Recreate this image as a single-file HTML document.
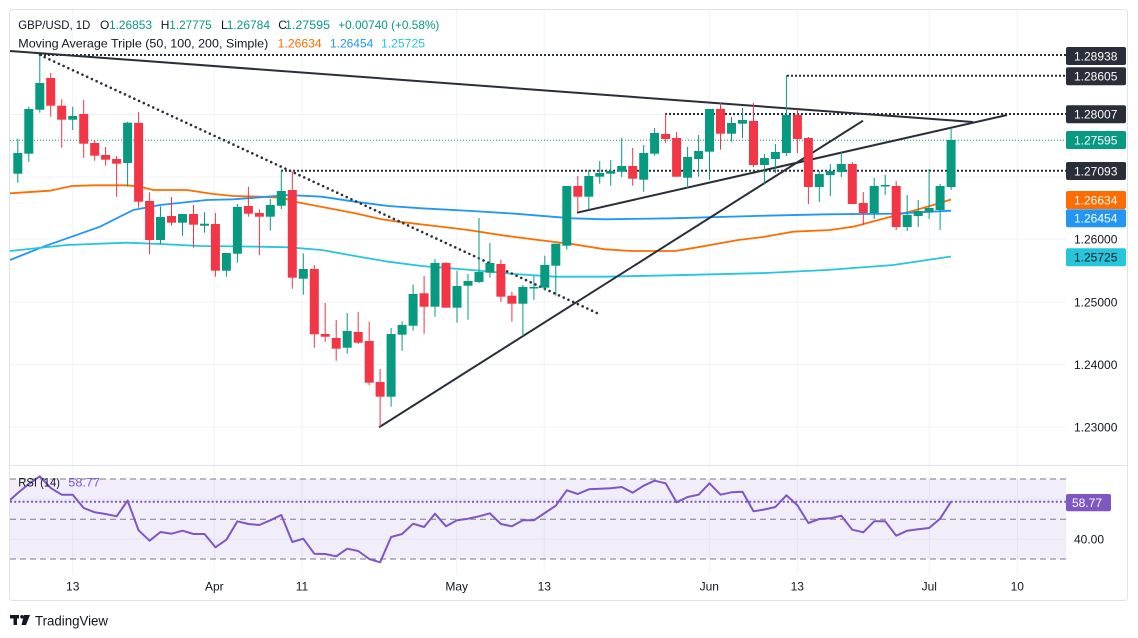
<!DOCTYPE html>
<html><head><meta charset="utf-8"><style>
html,body{margin:0;padding:0;background:#fff;}
svg{display:block;font-family:"Liberation Sans",Arial,sans-serif;}
</style></head><body>
<svg width="1138" height="638" viewBox="0 0 1138 638" xmlns="http://www.w3.org/2000/svg">
<rect x="0" y="0" width="1138" height="638" fill="#fff"/>
<rect x="9.5" y="9.5" width="1118" height="591" fill="#fff" stroke="#e0e3eb" stroke-width="1" rx="3"/>
<defs>
<clipPath id="mc"><rect x="10" y="10" width="1056" height="455"/></clipPath>
<clipPath id="rc"><rect x="10" y="466" width="1056" height="108"/></clipPath>
</defs>
<!-- grid -->
<g stroke="#f0f3fa" stroke-width="1">
<line x1="72.7" y1="10" x2="72.7" y2="574"/><line x1="214.3" y1="10" x2="214.3" y2="574"/><line x1="302" y1="10" x2="302" y2="574"/><line x1="456.7" y1="10" x2="456.7" y2="574"/><line x1="544.3" y1="10" x2="544.3" y2="574"/><line x1="709.3" y1="10" x2="709.3" y2="574"/><line x1="797.3" y1="10" x2="797.3" y2="574"/><line x1="929.3" y1="10" x2="929.3" y2="574"/><line x1="1017.3" y1="10" x2="1017.3" y2="574"/>
<line x1="10" y1="52" x2="1066" y2="52"/><line x1="10" y1="114.5" x2="1066" y2="114.5"/><line x1="10" y1="177" x2="1066" y2="177"/><line x1="10" y1="239" x2="1066" y2="239"/><line x1="10" y1="302" x2="1066" y2="302"/><line x1="10" y1="364.5" x2="1066" y2="364.5"/><line x1="10" y1="427" x2="1066" y2="427"/>
<line x1="10" y1="499.3" x2="1066" y2="499.3"/><line x1="10" y1="539.3" x2="1066" y2="539.3"/>
</g>
<line x1="10" y1="465.5" x2="1127" y2="465.5" stroke="#e0e3eb" stroke-width="1"/>
<g clip-path="url(#mc)">
<!-- MAs -->
<polyline fill="none" stroke="#ff6d00" stroke-width="1.8" points="10,193.3 50,190.7 71.7,186 93.3,185.3 126.7,185.3 140,186.7 153.3,190 186.7,190 213.3,194 233.3,196 260,196.7 281.7,197.7 295,201.7 355,213.3 381.7,219.3 398.3,221.7 435,226 468.3,230 505,235.7 538.3,240 571.7,244 605,249.3 631.7,251 675,251 691.7,248.3 738.3,240 763,237 793.3,231.7 830,230 853.3,226.7 870,222.3 893.3,216 913.3,210.7 936.7,204 951,199.5"/>
<polyline fill="none" stroke="#2196f3" stroke-width="1.8" points="10,260 43.3,246.7 71.7,236.7 100,226.7 133.3,210 160,205 206.7,200 233.3,199.3 255,197.7 288.3,195 321.7,196.7 355,201.7 388.3,206 421.7,208.3 471.7,211 515,213.7 571.7,218.3 605,219.3 671.7,218.3 765,215.7 826.7,214.3 893.3,213.7 951,210.7"/>
<polyline fill="none" stroke="#26c6da" stroke-width="1.8" points="10,251 66.7,245 126.7,242.7 160,244 200,246 260,246.7 288.3,247.3 321.7,250 355,256 388.3,261.7 421.7,266 471.7,270 515,274 555,276.7 605,276.7 671.7,275.3 765,273 826.7,270 893.3,265 951,256.5"/>
<!-- horizontal dotted -->
<g stroke="#2a2e39" stroke-width="2" stroke-dasharray="2 2">
<line x1="40" y1="55" x2="1066" y2="55"/>
<line x1="787" y1="75.7" x2="1066" y2="75.7"/>
<line x1="665" y1="114" x2="1066" y2="114"/>
<line x1="281" y1="170.7" x2="1066" y2="170.7"/>
</g>
<line x1="10" y1="140.3" x2="1066" y2="140.3" stroke="#089981" stroke-width="1" stroke-dasharray="1 2"/>
<!-- trend lines -->
<g stroke="#2a2e39" stroke-width="2" fill="none">
<line x1="10" y1="51" x2="973" y2="122"/>
<line x1="577" y1="212.7" x2="1007" y2="115"/>
<line x1="379" y1="427.3" x2="863" y2="120.7"/>
</g>
<line x1="40" y1="55" x2="597" y2="313" stroke="#2a2e39" stroke-width="2.6" stroke-linecap="round" stroke-dasharray="0 5.2"/>
<!-- candles -->
<g id="candles">
<rect x="17.3" y="138.7" width="1" height="44" fill="#089981"/><rect x="13.3" y="153" width="9" height="20.7" fill="#089981"/>
<rect x="28.3" y="106.7" width="1" height="55.3" fill="#089981"/><rect x="24.3" y="109" width="9" height="44.7" fill="#089981"/>
<rect x="39.3" y="55" width="1" height="57.7" fill="#089981"/><rect x="35.3" y="83" width="9" height="26.7" fill="#089981"/>
<rect x="50.2" y="73" width="1" height="43.7" fill="#f23645"/><rect x="46.2" y="78" width="9" height="27.7" fill="#f23645"/>
<rect x="61.2" y="99.3" width="1" height="48.4" fill="#f23645"/><rect x="57.2" y="105.7" width="9" height="14" fill="#f23645"/>
<rect x="72.2" y="106.7" width="1" height="23.3" fill="#089981"/><rect x="68.2" y="116" width="9" height="3.7" fill="#089981"/>
<rect x="83.2" y="100" width="1" height="57.7" fill="#f23645"/><rect x="79.2" y="114" width="9" height="29.7" fill="#f23645"/>
<rect x="94.2" y="140" width="1" height="20.7" fill="#f23645"/><rect x="90.2" y="143" width="9" height="12.7" fill="#f23645"/>
<rect x="105.1" y="147" width="1" height="18.7" fill="#f23645"/><rect x="101.1" y="155" width="9" height="4.7" fill="#f23645"/>
<rect x="116.1" y="156" width="1" height="40.7" fill="#f23645"/><rect x="112.1" y="159" width="9" height="4.7" fill="#f23645"/>
<rect x="127.1" y="121.7" width="1" height="65" fill="#089981"/><rect x="123.1" y="122.7" width="9" height="40.3" fill="#089981"/>
<rect x="138.1" y="112" width="1" height="95.7" fill="#f23645"/><rect x="134.1" y="123" width="9" height="78.7" fill="#f23645"/>
<rect x="149.1" y="192.3" width="1" height="62" fill="#f23645"/><rect x="145.1" y="201" width="9" height="39" fill="#f23645"/>
<rect x="160" y="206.3" width="1" height="37.7" fill="#089981"/><rect x="156" y="217" width="9" height="23" fill="#089981"/>
<rect x="171" y="197" width="1" height="28.7" fill="#f23645"/><rect x="167" y="216" width="9" height="6.7" fill="#f23645"/>
<rect x="182" y="214" width="1" height="21.7" fill="#089981"/><rect x="178" y="214" width="9" height="8.7" fill="#089981"/>
<rect x="193" y="205" width="1" height="42.7" fill="#f23645"/><rect x="189" y="214" width="9" height="10.7" fill="#f23645"/>
<rect x="204" y="212.3" width="1" height="20.4" fill="#089981"/><rect x="200" y="223.7" width="9" height="2" fill="#089981"/>
<rect x="214.9" y="213" width="1" height="63.7" fill="#f23645"/><rect x="210.9" y="224" width="9" height="46.7" fill="#f23645"/>
<rect x="225.9" y="253" width="1" height="23.7" fill="#089981"/><rect x="221.9" y="253" width="9" height="17.7" fill="#089981"/>
<rect x="236.9" y="204" width="1" height="58.7" fill="#089981"/><rect x="232.9" y="207" width="9" height="46.7" fill="#089981"/>
<rect x="247.9" y="186.7" width="1" height="30" fill="#f23645"/><rect x="243.9" y="206" width="9" height="7.7" fill="#f23645"/>
<rect x="258.9" y="209.3" width="1" height="45.7" fill="#f23645"/><rect x="254.9" y="213" width="9" height="3.7" fill="#f23645"/>
<rect x="269.8" y="199" width="1" height="31.7" fill="#089981"/><rect x="265.8" y="205" width="9" height="11.7" fill="#089981"/>
<rect x="280.8" y="170.7" width="1" height="38.3" fill="#089981"/><rect x="276.8" y="191" width="9" height="14.7" fill="#089981"/>
<rect x="291.8" y="171.7" width="1" height="117" fill="#f23645"/><rect x="287.8" y="190" width="9" height="87.7" fill="#f23645"/>
<rect x="302.8" y="253.3" width="1" height="41.4" fill="#089981"/><rect x="298.8" y="269" width="9" height="9.7" fill="#089981"/>
<rect x="313.8" y="265" width="1" height="82.7" fill="#f23645"/><rect x="309.8" y="269" width="9" height="65.3" fill="#f23645"/>
<rect x="324.7" y="303" width="1" height="39" fill="#f23645"/><rect x="320.7" y="334" width="9" height="2.7" fill="#f23645"/>
<rect x="335.7" y="320" width="1" height="40.7" fill="#f23645"/><rect x="331.7" y="338" width="9" height="10.7" fill="#f23645"/>
<rect x="346.7" y="313" width="1" height="40.7" fill="#089981"/><rect x="342.7" y="331" width="9" height="16.7" fill="#089981"/>
<rect x="357.7" y="312" width="1" height="32" fill="#f23645"/><rect x="353.7" y="332" width="9" height="10.7" fill="#f23645"/>
<rect x="368.7" y="322" width="1" height="63" fill="#f23645"/><rect x="364.7" y="341" width="9" height="41.7" fill="#f23645"/>
<rect x="379.6" y="369" width="1" height="58.3" fill="#f23645"/><rect x="375.6" y="382" width="9" height="14.7" fill="#f23645"/>
<rect x="390.6" y="328" width="1" height="78.7" fill="#089981"/><rect x="386.6" y="334" width="9" height="62.7" fill="#089981"/>
<rect x="401.6" y="321.3" width="1" height="29.4" fill="#089981"/><rect x="397.6" y="325" width="9" height="9.7" fill="#089981"/>
<rect x="412.6" y="284.7" width="1" height="46" fill="#089981"/><rect x="408.6" y="294" width="9" height="31.7" fill="#089981"/>
<rect x="423.6" y="276" width="1" height="57.7" fill="#f23645"/><rect x="419.6" y="293.3" width="9" height="13.4" fill="#f23645"/>
<rect x="434.5" y="259" width="1" height="57.7" fill="#089981"/><rect x="430.5" y="263" width="9" height="43.7" fill="#089981"/>
<rect x="445.5" y="262" width="1" height="45.7" fill="#f23645"/><rect x="441.5" y="263" width="9" height="44.7" fill="#f23645"/>
<rect x="456.5" y="270.7" width="1" height="52" fill="#089981"/><rect x="452.5" y="286" width="9" height="21.7" fill="#089981"/>
<rect x="467.5" y="274" width="1" height="45.7" fill="#089981"/><rect x="463.5" y="281" width="9" height="4.7" fill="#089981"/>
<rect x="478.5" y="218" width="1" height="65" fill="#089981"/><rect x="474.5" y="272" width="9" height="10" fill="#089981"/>
<rect x="489.4" y="243" width="1" height="34.7" fill="#089981"/><rect x="485.4" y="263" width="9" height="9.7" fill="#089981"/>
<rect x="500.4" y="260" width="1" height="42" fill="#f23645"/><rect x="496.4" y="264" width="9" height="32.7" fill="#f23645"/>
<rect x="511.4" y="291.7" width="1" height="30" fill="#f23645"/><rect x="507.4" y="295.7" width="9" height="8" fill="#f23645"/>
<rect x="522.4" y="285" width="1" height="51" fill="#089981"/><rect x="518.4" y="287" width="9" height="16.7" fill="#089981"/>
<rect x="533.4" y="276" width="1" height="23.7" fill="#089981"/><rect x="529.4" y="287" width="9" height="1.5" fill="#089981"/>
<rect x="544.3" y="255.7" width="1" height="35" fill="#089981"/><rect x="540.3" y="265" width="9" height="22.7" fill="#089981"/>
<rect x="555.3" y="243.7" width="1" height="52" fill="#089981"/><rect x="551.3" y="243.7" width="9" height="22" fill="#089981"/>
<rect x="566.3" y="186" width="1" height="63.7" fill="#089981"/><rect x="562.3" y="186" width="9" height="59.7" fill="#089981"/>
<rect x="577.3" y="176" width="1" height="35.7" fill="#f23645"/><rect x="573.3" y="186" width="9" height="10.7" fill="#f23645"/>
<rect x="588.3" y="169.7" width="1" height="40" fill="#089981"/><rect x="584.3" y="176" width="9" height="20.7" fill="#089981"/>
<rect x="599.2" y="161" width="1" height="22.7" fill="#089981"/><rect x="595.2" y="173" width="9" height="3.7" fill="#089981"/>
<rect x="610.2" y="160" width="1" height="25.7" fill="#089981"/><rect x="606.2" y="171" width="9" height="2.7" fill="#089981"/>
<rect x="621.2" y="138" width="1" height="39" fill="#089981"/><rect x="617.2" y="166" width="9" height="5.7" fill="#089981"/>
<rect x="632.2" y="148" width="1" height="37.7" fill="#f23645"/><rect x="628.2" y="166" width="9" height="12.7" fill="#f23645"/>
<rect x="643.2" y="145" width="1" height="46.7" fill="#089981"/><rect x="639.2" y="153" width="9" height="26.7" fill="#089981"/>
<rect x="654.1" y="128" width="1" height="27.7" fill="#089981"/><rect x="650.1" y="133" width="9" height="20.7" fill="#089981"/>
<rect x="665.1" y="113" width="1" height="30" fill="#f23645"/><rect x="661.1" y="134" width="9" height="5" fill="#f23645"/>
<rect x="676.1" y="132" width="1" height="44.7" fill="#f23645"/><rect x="672.1" y="138" width="9" height="38.7" fill="#f23645"/>
<rect x="687.1" y="147" width="1" height="41.7" fill="#089981"/><rect x="683.1" y="157" width="9" height="20.7" fill="#089981"/>
<rect x="698.1" y="135" width="1" height="41.7" fill="#089981"/><rect x="694.1" y="151" width="9" height="8" fill="#089981"/>
<rect x="709" y="109" width="1" height="70.7" fill="#089981"/><rect x="705" y="109" width="9" height="42.7" fill="#089981"/>
<rect x="720" y="103" width="1" height="46.7" fill="#f23645"/><rect x="716" y="109" width="9" height="24.7" fill="#f23645"/>
<rect x="731" y="117" width="1" height="24.7" fill="#089981"/><rect x="727" y="123" width="9" height="10.7" fill="#089981"/>
<rect x="742" y="108" width="1" height="30" fill="#089981"/><rect x="738" y="120" width="9" height="3.7" fill="#089981"/>
<rect x="753" y="103" width="1" height="64" fill="#f23645"/><rect x="749" y="121" width="9" height="44" fill="#f23645"/>
<rect x="763.9" y="154" width="1" height="30" fill="#089981"/><rect x="759.9" y="158" width="9" height="7" fill="#089981"/>
<rect x="774.9" y="144" width="1" height="29" fill="#089981"/><rect x="770.9" y="152" width="9" height="7" fill="#089981"/>
<rect x="785.9" y="75" width="1" height="81" fill="#089981"/><rect x="781.9" y="115" width="9" height="38" fill="#089981"/>
<rect x="796.9" y="109" width="1" height="44" fill="#f23645"/><rect x="792.9" y="115" width="9" height="24" fill="#f23645"/>
<rect x="807.9" y="137" width="1" height="67" fill="#f23645"/><rect x="803.9" y="138" width="9" height="49" fill="#f23645"/>
<rect x="818.8" y="171" width="1" height="31" fill="#089981"/><rect x="814.8" y="174" width="9" height="13" fill="#089981"/>
<rect x="829.8" y="164" width="1" height="32" fill="#089981"/><rect x="825.8" y="171" width="9" height="4" fill="#089981"/>
<rect x="840.8" y="152" width="1" height="25" fill="#089981"/><rect x="836.8" y="164" width="9" height="8" fill="#089981"/>
<rect x="851.8" y="162" width="1" height="42" fill="#f23645"/><rect x="847.8" y="164" width="9" height="40" fill="#f23645"/>
<rect x="862.8" y="192" width="1" height="33" fill="#f23645"/><rect x="858.8" y="203" width="9" height="10" fill="#f23645"/>
<rect x="873.7" y="178" width="1" height="41" fill="#089981"/><rect x="869.7" y="186" width="9" height="27" fill="#089981"/>
<rect x="884.7" y="175" width="1" height="20" fill="#089981"/><rect x="880.7" y="185" width="9" height="1.5" fill="#089981"/>
<rect x="895.7" y="181" width="1" height="49" fill="#f23645"/><rect x="891.7" y="186" width="9" height="41" fill="#f23645"/>
<rect x="906.7" y="195" width="1" height="36" fill="#089981"/><rect x="902.7" y="215" width="9" height="12" fill="#089981"/>
<rect x="917.7" y="200" width="1" height="27" fill="#089981"/><rect x="913.7" y="211" width="9" height="5" fill="#089981"/>
<rect x="928.6" y="169" width="1" height="50" fill="#089981"/><rect x="924.6" y="208" width="9" height="4" fill="#089981"/>
<rect x="939.6" y="184" width="1" height="46" fill="#089981"/><rect x="935.6" y="186" width="9" height="24" fill="#089981"/>
<rect x="950.6" y="128" width="1" height="62" fill="#089981"/><rect x="946.6" y="140" width="9" height="47" fill="#089981"/>
</g>
</g>
<!-- RSI pane -->
<g clip-path="url(#rc)">
<rect x="10" y="479" width="1056" height="80" fill="#7e57c2" fill-opacity="0.1"/>
<g stroke="#787b86" stroke-width="1" stroke-dasharray="6 4">
<line x1="10" y1="479" x2="1066" y2="479"/><line x1="10" y1="519.3" x2="1066" y2="519.3"/><line x1="10" y1="559" x2="1066" y2="559"/>
</g>
<line x1="10" y1="501.8" x2="1066" y2="501.8" stroke="#7e57c2" stroke-width="2" stroke-dasharray="2 2.2"/>
<polyline fill="none" stroke="#7e57c2" stroke-width="2" stroke-linejoin="round" points="8,502 17.8,493 28.8,484 39.8,476.3 50.7,488 61.7,494.7 72.7,494.7 83.7,508 94.7,512.3 105.6,514 116.6,516.3 127.6,500.7 138.6,530.3 149.6,540.7 160.5,532 171.5,533.7 182.5,530.7 193.5,534 204.5,534 215.4,547.3 226.4,539.7 237.4,521.3 248.4,524 259.4,525 270.3,520.3 281.3,515 292.3,542 303.3,538.7 314.3,553.7 325.2,554 336.2,556.3 347.2,548.7 358.2,551 369.2,559 380.1,562.3 391.1,537 402.1,534 413.1,523.7 424.1,527 435,513.7 446,526.3 457,520.3 468,518.7 479,516.3 489.9,513.3 500.9,524 511.9,526.3 522.9,520.3 533.9,520.3 544.8,513 555.8,505.7 566.8,490.3 577.8,494 588.8,489.3 599.7,488.7 610.7,488.3 621.7,487 632.7,492.7 643.7,485.7 654.6,480.7 665.6,483.3 676.6,502.3 687.6,497 698.6,494.7 709.5,483.3 720.5,494.7 731.5,492.3 742.5,491.7 753.5,511.3 764.4,509.5 775.4,507 786.4,495.3 797.4,505.3 808.4,523 819.3,519 830.3,518.3 841.3,515.7 852.3,529.7 863.3,532.3 874.2,521.3 885.2,521.3 896.2,535.7 907.2,530.7 918.2,529.3 929.1,528 940.1,518.7 951.1,501.5"/>
</g>
<!-- legend -->
<g font-size="12" fill="#131722">
<text x="18.3" y="29.2" textLength="72" lengthAdjust="spacingAndGlyphs">GBP/USD, 1D</text>
<text x="100" y="29.2">O</text><text x="109" y="29.2" fill="#089981" textLength="43" lengthAdjust="spacingAndGlyphs">1.26853</text>
<text x="160.7" y="29.2">H</text><text x="169.3" y="29.2" fill="#089981" textLength="42.4" lengthAdjust="spacingAndGlyphs">1.27775</text>
<text x="221" y="29.2">L</text><text x="226.7" y="29.2" fill="#089981" textLength="43.3" lengthAdjust="spacingAndGlyphs">1.26784</text>
<text x="278.3" y="29.2">C</text><text x="285" y="29.2" fill="#089981" textLength="45" lengthAdjust="spacingAndGlyphs">1.27595</text>
<text x="338.3" y="29.2" fill="#089981" textLength="101" lengthAdjust="spacingAndGlyphs">+0.00740 (+0.58%)</text>
<text x="18.3" y="47.7" textLength="250" lengthAdjust="spacingAndGlyphs">Moving Average Triple (50, 100, 200, Simple)</text>
<text x="277.7" y="47.7" fill="#ff6d00" textLength="44" lengthAdjust="spacingAndGlyphs">1.26634</text>
<text x="330" y="47.7" fill="#2196f3" textLength="43.3" lengthAdjust="spacingAndGlyphs">1.26454</text>
<text x="381" y="47.7" fill="#26c6da" textLength="44" lengthAdjust="spacingAndGlyphs">1.25725</text>
<text x="18.3" y="486.3" textLength="41.7" lengthAdjust="spacingAndGlyphs">RSI (14)</text>
<text x="68.3" y="486.3" fill="#7e57c2" textLength="31.7" lengthAdjust="spacingAndGlyphs">58.77</text>
</g>
<!-- price axis -->
<g font-size="12">
<rect x="1066" y="47" width="60" height="18" rx="2" fill="#2a2e39"/><text x="1074" y="60.3" fill="#fff">1.28938</text>
<rect x="1066" y="67.3" width="60" height="18" rx="2" fill="#2a2e39"/><text x="1074" y="80.6" fill="#fff">1.28605</text>
<rect x="1066" y="105.3" width="60" height="18" rx="2" fill="#2a2e39"/><text x="1074" y="118.6" fill="#fff">1.28007</text>
<rect x="1066" y="131" width="60" height="18" rx="2" fill="#089981"/><text x="1074" y="144.3" fill="#fff">1.27595</text>
<rect x="1066" y="162" width="60" height="18" rx="2" fill="#2a2e39"/><text x="1074" y="175.3" fill="#fff">1.27093</text>
<rect x="1066" y="191" width="60" height="18" rx="2" fill="#ff6d00"/><text x="1074" y="204.3" fill="#fff">1.26634</text>
<rect x="1066" y="209.3" width="60" height="18" rx="2" fill="#2196f3"/><text x="1074" y="222.6" fill="#fff">1.26454</text>
<text x="1074" y="243.5" fill="#131722">1.26000</text>
<rect x="1066" y="248.3" width="60" height="18" rx="2" fill="#26c6da"/><text x="1074" y="261.6" fill="#131722">1.25725</text>
<text x="1074" y="306.3" fill="#131722">1.25000</text>
<text x="1074" y="368.8" fill="#131722">1.24000</text>
<text x="1074" y="431.3" fill="#131722">1.23000</text>
<rect x="1066" y="494" width="45" height="17.3" rx="2" fill="#7e57c2"/><text x="1072" y="507" fill="#fff">58.77</text>
<text x="1074" y="543.6" fill="#131722">40.00</text>
</g>
<!-- time axis -->
<g font-size="12" fill="#131722" text-anchor="middle">
<text x="72.7" y="590.5">13</text><text x="214.3" y="590.5">Apr</text><text x="302" y="590.5">11</text><text x="456.7" y="590.5">May</text><text x="544.3" y="590.5">13</text><text x="709.3" y="590.5">Jun</text><text x="797.3" y="590.5">13</text><text x="929.3" y="590.5">Jul</text><text x="1017.3" y="590.5">10</text>
</g>
<!-- TradingView logo -->
<g fill="#131722">
<rect x="10" y="615" width="9" height="3.5"/>
<rect x="13.5" y="615" width="3.5" height="10"/>
<circle cx="22" cy="616.8" r="1.8"/>
<polygon points="24,615 30,615 26,625 21.5,625"/>
</g>
<text x="35" y="625.3" font-size="14" fill="#131722" textLength="73" lengthAdjust="spacingAndGlyphs">TradingView</text>
</svg>
</body></html>
